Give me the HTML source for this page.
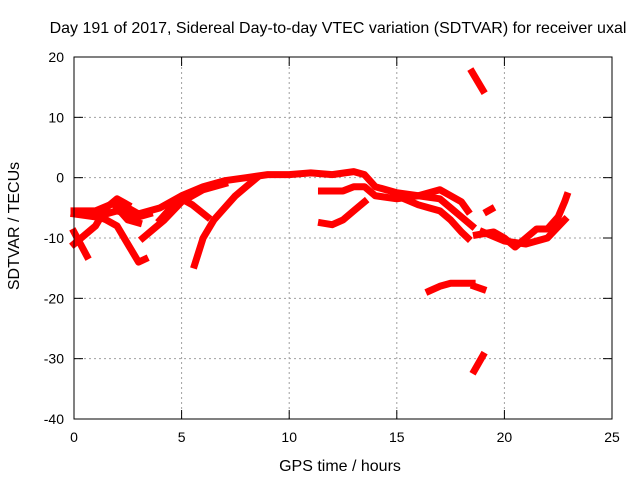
<!DOCTYPE html>
<html><head><meta charset="utf-8"><style>
body{margin:0;background:#fff}
svg{display:block;font-family:"Liberation Sans",sans-serif}
</style></head><body>
<svg id="chart" width="640" height="480">
<text x="338" y="33" font-size="16" text-anchor="middle">Day 191 of 2017, Sidereal Day-to-day VTEC variation (SDTVAR) for receiver uxal</text>
<text x="340" y="471" font-size="16" text-anchor="middle">GPS time / hours</text>
<text transform="translate(19,226) rotate(-90)" font-size="16" text-anchor="middle">SDTVAR / TECUs</text>
<g id="grid"></g>
<g id="ticks"></g>
<g id="series"></g>
<rect x="74" y="57" width="538" height="362" fill="none" stroke="#000" stroke-width="1"/>
</svg>
<script>
const xTicks=[0,5,10,15,20,25];
const yTicks=[20,10,0,-10,-20,-30,-40];
const traces=[
[[0,-5.5],[1,-5.5],[2,-4],[3,-6],[4,-5],[5,-3],[6,-1.5],[7,-0.5],[8,0],[9,0.5],[10,0.5],[11,0.8],[12,0.5],[13,1],[13.5,0.5],[14,-1.5],[15,-2.5],[16,-3],[17,-3.5],[17.5,-5],[18,-6.5],[18.5,-8]],
[[0.8,-6],[1.5,-7],[2,-8],[2.5,-11],[3,-14],[3.3,-13.5]],
[[0,-9],[0.3,-11],[0.6,-13]],
[[0,-11],[1,-8],[1.5,-5],[2,-3.5],[2.5,-4.5]],
[[0,-6],[1,-6.5],[2,-5.5],[3,-6.5],[3.5,-6]],
[[2,-5],[2.5,-7],[3,-7.5]],
[[5.6,-14.5],[6,-10],[6.5,-7],[7,-5],[7.5,-3],[8,-1.5],[8.5,0]],
[[4,-7],[4.5,-5],[5,-3.5],[5.5,-4.5],[6.2,-6.5]],
[[3.2,-10],[3.7,-8.5],[4.2,-7],[5,-4],[6,-2],[7,-1]],
[[11.5,-7.5],[12,-7.8],[12.5,-7],[13,-5.5],[13.5,-4]],
[[11.5,-2.2],[12.5,-2.2],[13,-1.5],[13.5,-1.5],[14,-3],[15,-3.5],[16,-3],[17,-2],[18,-4],[18.3,-5.5]],
[[15,-3],[16,-4.5],[16.5,-5],[17,-5.5],[17.5,-7],[18,-9],[18.3,-10]],
[[18.7,-9.5],[19.5,-9],[20,-10],[20.5,-11.5],[21,-10],[21.5,-8.5],[22,-8.5],[22.5,-6.5],[22.8,-4],[22.9,-3]],
[[19,-9],[20,-10.5],[21,-11],[22,-10],[22.8,-7]],
[[16.5,-18.8],[17,-18],[17.5,-17.5],[18,-17.5],[18.5,-17.5]],
[[18.6,-18],[19,-18.5]],
[[18.5,17.5],[19,14.5]],
[[18.6,-32],[19,-29.5]],
[[19.2,-5.6],[19.4,-5.2]]
];
const X=h=>74+h*538/25, Y=v=>57+(20-v)*362/60;
const NS='http://www.w3.org/2000/svg';
const grid=document.getElementById('grid'),ticks=document.getElementById('ticks'),ser=document.getElementById('series');
function mk(tag,attrs,parent){const e=document.createElementNS(NS,tag);for(const k in attrs)e.setAttribute(k,attrs[k]);parent.appendChild(e);return e;}
xTicks.forEach(t=>{const x=X(t);
 if(t>0&&t<25){const g=mk('line',{x1:x,x2:x,y1:57,y2:419,stroke:'#a0a0a0','stroke-dasharray':'2,3'},grid);
 
 }
 mk('line',{x1:x,x2:x,y1:419,y2:410,stroke:'#000'},ticks);
 mk('line',{x1:x,x2:x,y1:57,y2:66,stroke:'#000'},ticks);
 const tx=mk('text',{x:x,y:442,'font-size':14,'text-anchor':'middle'},ticks);tx.textContent=t;
 
 
});
yTicks.forEach(t=>{const y=Y(t);
 if(t<20&&t>-40){const g=mk('line',{x1:74,x2:612,y1:y,y2:y,stroke:'#a0a0a0','stroke-dasharray':'2,3'},grid);
 
 }
 mk('line',{x1:74,x2:83,y1:y,y2:y,stroke:'#000'},ticks);
 mk('line',{x1:603,x2:612,y1:y,y2:y,stroke:'#000'},ticks);
 const tx=mk('text',{x:64,y:y+5,'font-size':14,'text-anchor':'end'},ticks);tx.textContent=t;
 
 
});
traces.forEach(tr=>{
 const p=mk('polyline',{points:tr.map(d=>X(d[0])+','+Y(d[1])).join(' '),fill:'none',stroke:'#ff0000','stroke-width':7,'stroke-linejoin':'round','stroke-linecap':'square'},ser);
 
 
});
</script>
</body></html>
